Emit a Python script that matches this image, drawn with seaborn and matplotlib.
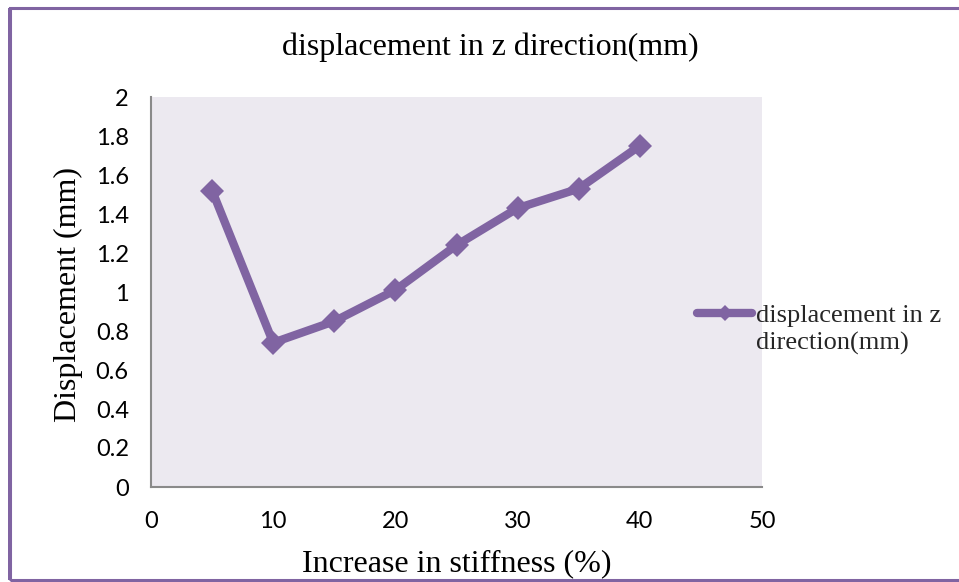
import numpy as np
import pandas as pd
import matplotlib
matplotlib.use("Agg")
import matplotlib.pyplot as plt
import seaborn as sns
from matplotlib.patches import Rectangle
from matplotlib.legend_handler import HandlerLine2D
from matplotlib.transforms import Affine2D

# Mid-span vertical displacement against percentage increase in stiffness
stiffness_increase = [5, 10, 15, 20, 25, 30, 35, 40]
displacement_z = [1.52, 0.74, 0.85, 1.01, 1.24, 1.43, 1.53, 1.75]
series_name = "displacement in z\ndirection(mm)"
chart_title = "displacement in z direction(mm)"
x_label = "Increase in stiffness (%)"
y_label = "Displacement (mm)"
x_ticks = [0, 10, 20, 30, 40, 50]
y_ticks = [0, 0.2, 0.4, 0.6, 0.8, 1, 1.2, 1.4, 1.6, 1.8, 2]

df = pd.DataFrame({"x": stiffness_increase, "y": displacement_z})

sns.set_theme(style="white")
plt.rcParams["font.family"] = ["Liberation Serif", "DejaVu Serif"]

purple = "#8064A2"
spine_grey = "#8A8A8A"


class FirstLineHandler(HandlerLine2D):
    """Legend key drawn level with the first line of a two-line label."""

    def create_artists(self, legend, orig_handle, xdescent, ydescent,
                       width, height, fontsize, trans):
        shifted = Affine2D().translate(0, 0.62 * fontsize) + trans
        return super().create_artists(legend, orig_handle, xdescent, ydescent,
                                      width, height, fontsize, shifted)


fig = plt.figure(figsize=(9.59, 5.82), dpi=100)
ax = fig.add_axes([151 / 959, 1 - 487 / 582, (762 - 151) / 959, (487 - 97) / 582])
ax.set_facecolor("#ECE9F0")

sns.lineplot(data=df, x="x", y="y", ax=ax, color=purple, linewidth=6.0,
             marker="D", markersize=12, markeredgewidth=0,
             markerfacecolor=purple, label=series_name, legend=False)

ax.set_xlim(0, 50)
ax.set_ylim(0, 2)
ax.set_xticks(x_ticks)
ax.set_yticks(y_ticks)
ax.set_xticklabels([str(t) for t in x_ticks], fontfamily="Lato", fontsize=17)
ax.set_yticklabels([f"{t:g}" for t in y_ticks], fontfamily="Lato", fontsize=17)

for side in ("top", "right"):
    ax.spines[side].set_visible(False)
for side in ("left", "bottom"):
    ax.spines[side].set_color(spine_grey)
    ax.spines[side].set_linewidth(1.5)
ax.tick_params(axis="both", which="major", direction="out", length=6,
               width=1.3, color=spine_grey, labelcolor="black")
ax.tick_params(axis="y", pad=10)
ax.tick_params(axis="x", pad=11)

ax.set_xlabel("")
ax.set_ylabel("")
fig.text(457 / 959, 1 - 571 / 582, x_label, ha="center", va="baseline",
         fontsize=23, color="black")
fig.text(68 / 959, 1 - 295 / 582, y_label, ha="center", va="center",
         rotation=90, fontsize=23, color="black")
fig.text(490 / 959, 1 - 47 / 582, chart_title, ha="center", va="center",
         fontsize=23, color="black")

handles, labels = ax.get_legend_handles_labels()
leg = fig.legend(handles, labels, loc="center left",
                 bbox_to_anchor=(697 / 959, 1 - 330 / 582),
                 frameon=False, fontsize=19, handlelength=2.1,
                 handletextpad=0.15, borderpad=0, borderaxespad=0,
                 handler_map={handles[0]: FirstLineHandler()})
for t in leg.get_texts():
    t.set_linespacing(1.3)
leg.legend_handles[0].set_markersize(8)

# Frame around the chart area
fig.patches.append(Rectangle((10 / 959, 2 / 582), 1.2, 1 - 10 / 582,
                             transform=fig.transFigure, fill=False,
                             edgecolor=purple, linewidth=2.2, zorder=10))
fig.patches.append(Rectangle((8 / 959, 2 / 582), 4 / 959, 1 - 10 / 582,
                             transform=fig.transFigure, facecolor=purple,
                             edgecolor="none", zorder=10))

fig.savefig("out.png", dpi=100, facecolor="white")
